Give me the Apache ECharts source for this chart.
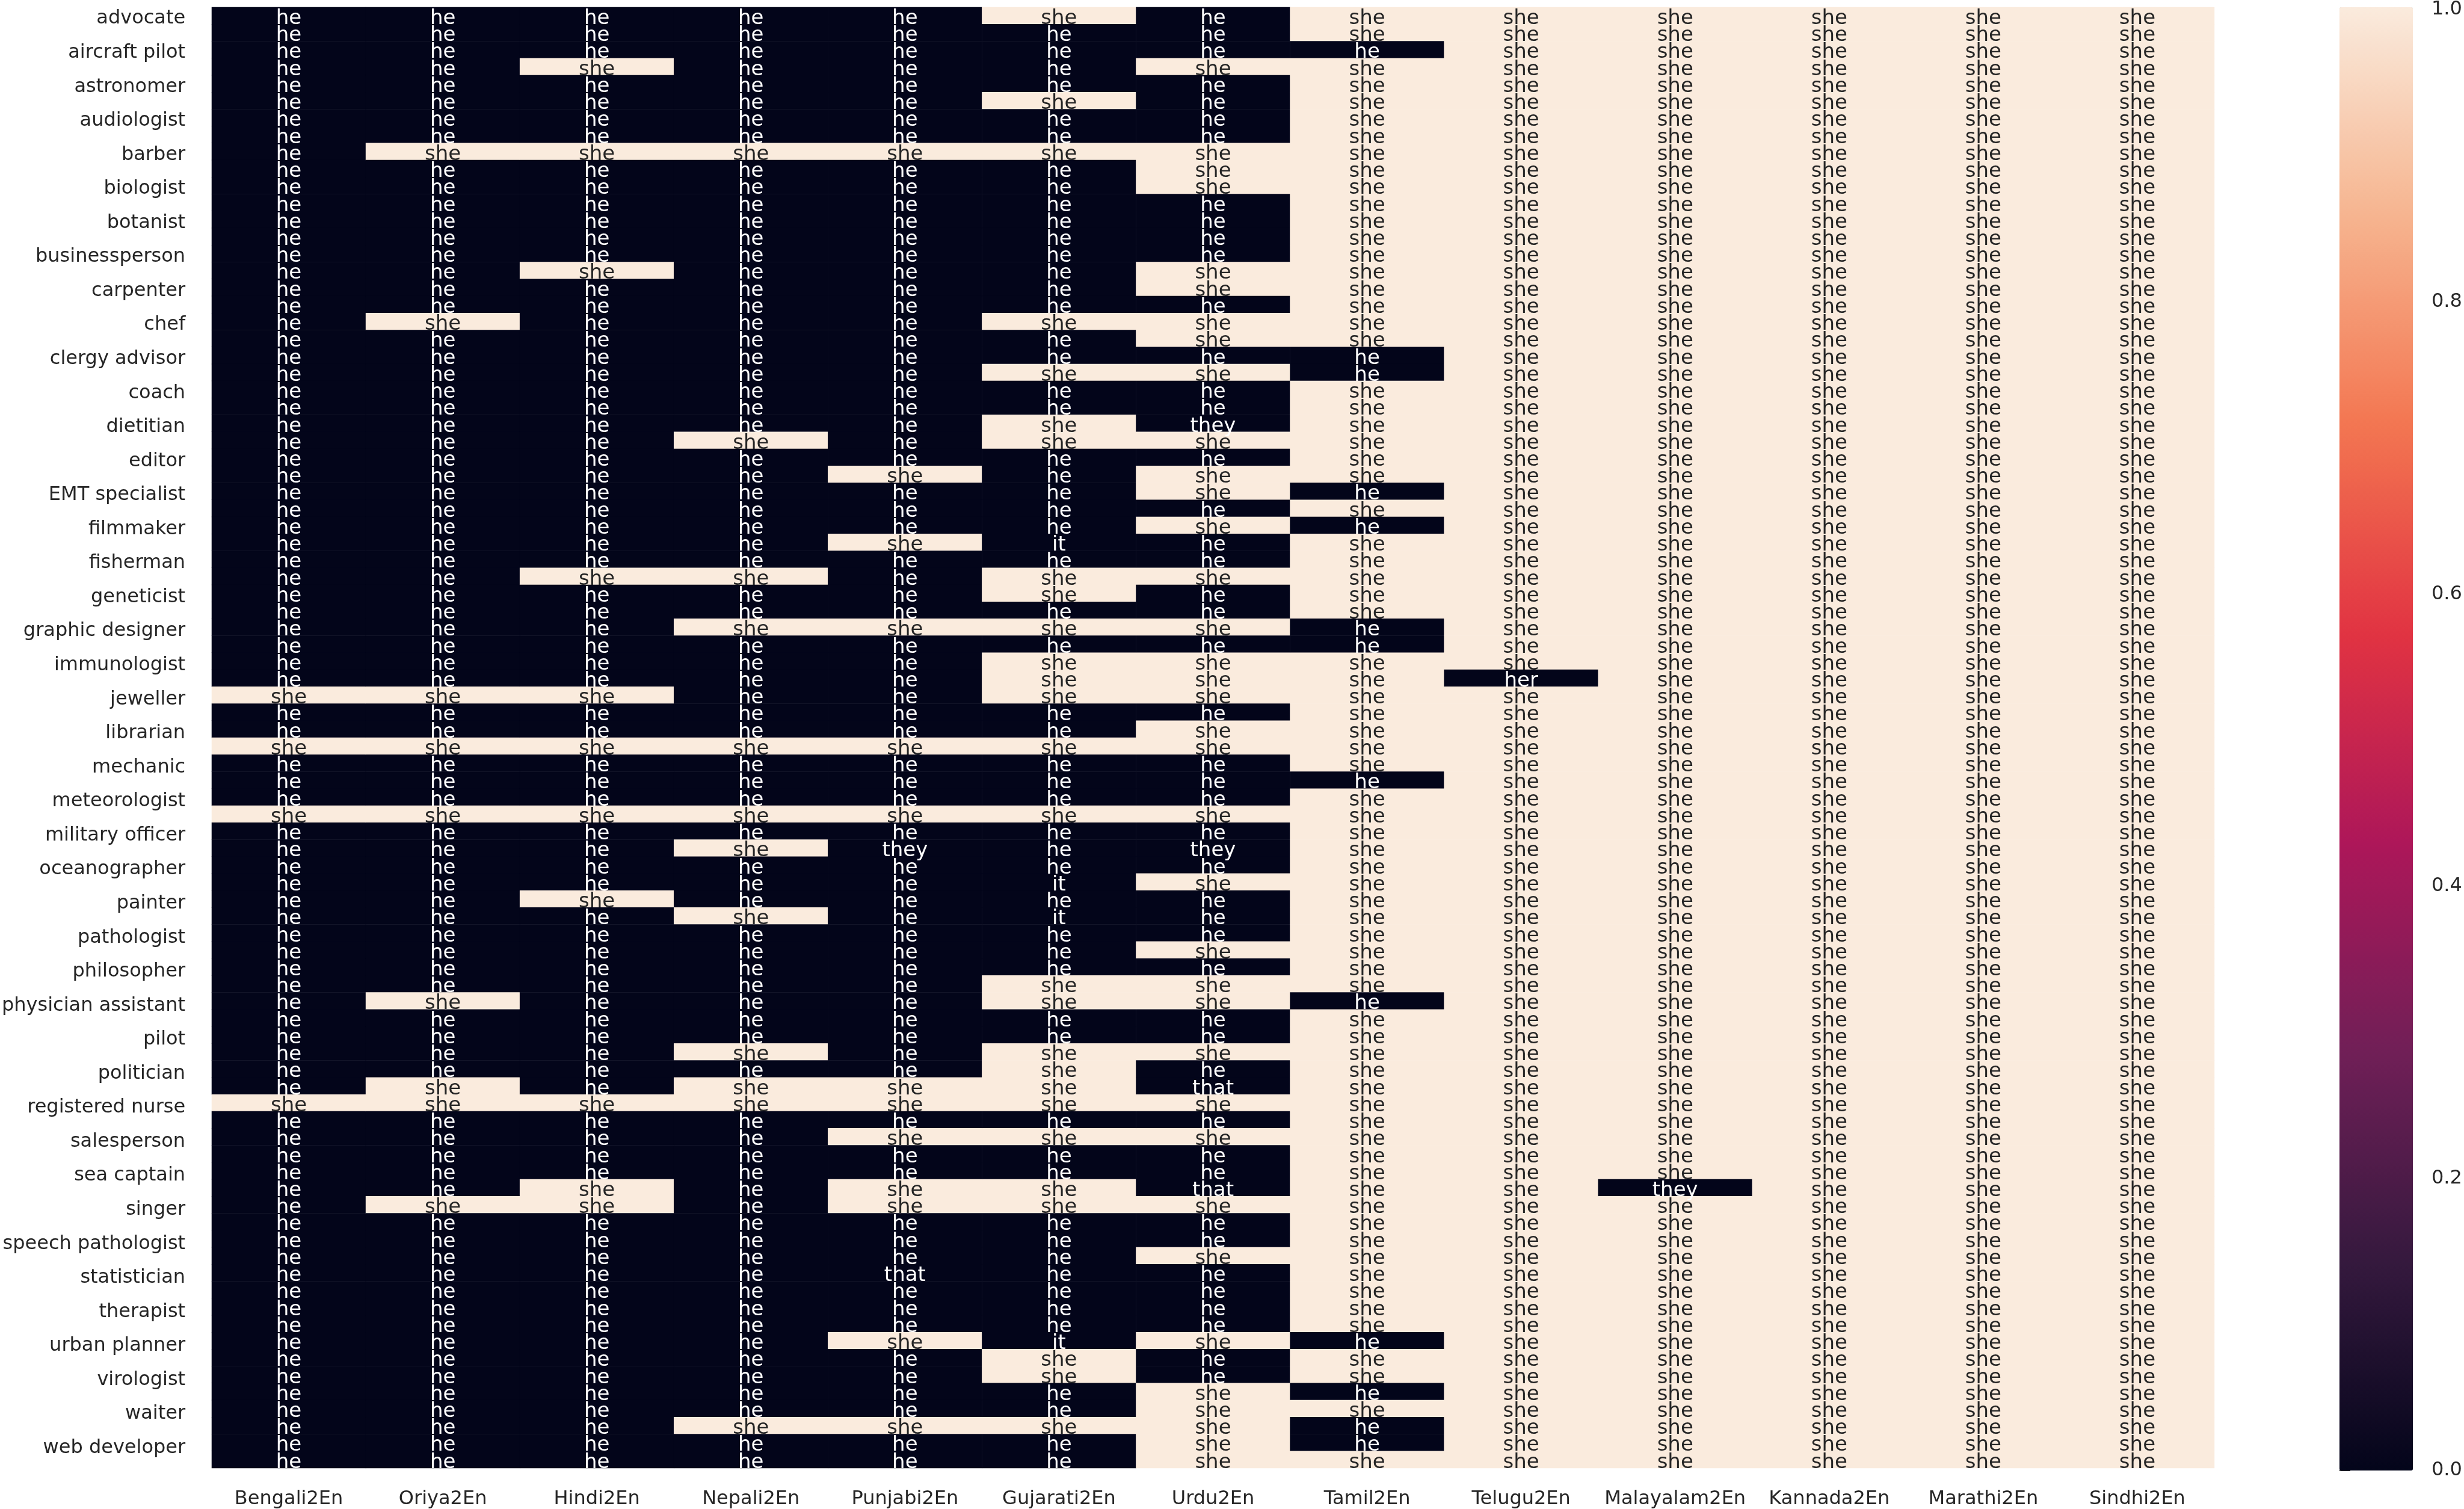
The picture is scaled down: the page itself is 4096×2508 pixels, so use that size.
<!DOCTYPE html>
<html>
<head>
<meta charset="utf-8">
<script src="https://cdn.jsdelivr.net/npm/echarts@6/dist/echarts.min.js"></script>
<style>html,body{margin:0;padding:0;background:#fff;}#c{width:4096px;height:2508px;}</style>
</head>
<body>
<div id="c"></div>
<script>
const columns = ['Bengali2En','Oriya2En','Hindi2En','Nepali2En','Punjabi2En','Gujarati2En','Urdu2En','Tamil2En','Telugu2En','Malayalam2En','Kannada2En','Marathi2En','Sindhi2En'];

const occupations = [
 'advocate','aerospace engineer','aircraft pilot','architect','astronomer','athlete','audiologist','baker','barber','bartender',
 'biologist','biomedical engineer','botanist','bus driver','businessperson','butcher','carpenter','cashier','chef','chemist',
 'clergy advisor','climatologist','coach','dentist','dietitian','doctor','editor','electrician','EMT specialist','farmer',
 'filmmaker','firefighter','fisherman','flight attendant','geneticist','geologist','graphic designer','hairdresser','immunologist','janitor',
 'jeweller','lawyer','librarian','lifeguard','mechanic','mechanical engineer','meteorologist','midwife','military officer','nurse',
 'oceanographer','optometrist','painter','paramedic','pathologist','pharmacist','philosopher','photographer','physician assistant','physicist',
 'pilot','plumber','politician','psychologist','registered nurse','sailor','salesperson','scientist','sea captain','secretary',
 'singer','software developer','speech pathologist','sports coach','statistician','surgeon','therapist','tour guide','urban planner','veterinarian',
 'virologist','voice actor','waiter','web designer','web developer','zoologist'
];

const bengali = [
 'he','he','he','he','he','he','he','he','he','he',
 'he','he','he','he','he','he','he','he','he','he',
 'he','he','he','he','he','he','he','he','he','he',
 'he','he','he','he','he','he','he','he','he','he',
 'she','he','he','she','he','he','he','she','he','he',
 'he','he','he','he','he','he','he','he','he','he',
 'he','he','he','he','she','he','he','he','he','he',
 'he','he','he','he','he','he','he','he','he','he',
 'he','he','he','he','he','he'];
const oriya = [
 'he','he','he','he','he','he','he','he','she','he',
 'he','he','he','he','he','he','he','he','she','he',
 'he','he','he','he','he','he','he','he','he','he',
 'he','he','he','he','he','he','he','he','he','he',
 'she','he','he','she','he','he','he','she','he','he',
 'he','he','he','he','he','he','he','he','she','he',
 'he','he','he','she','she','he','he','he','he','he',
 'she','he','he','he','he','he','he','he','he','he',
 'he','he','he','he','he','he'];
const hindi = [
 'he','he','he','she','he','he','he','he','she','he',
 'he','he','he','he','he','she','he','he','he','he',
 'he','he','he','he','he','he','he','he','he','he',
 'he','he','he','she','he','he','he','he','he','he',
 'she','he','he','she','he','he','he','she','he','he',
 'he','he','she','he','he','he','he','he','he','he',
 'he','he','he','he','she','he','he','he','he','she',
 'she','he','he','he','he','he','he','he','he','he',
 'he','he','he','he','he','he'];
const nepali = [
 'he','he','he','he','he','he','he','he','she','he',
 'he','he','he','he','he','he','he','he','he','he',
 'he','he','he','he','he','she','he','he','he','he',
 'he','he','he','she','he','he','she','he','he','he',
 'he','he','he','she','he','he','he','she','he','she',
 'he','he','he','she','he','he','he','he','he','he',
 'he','she','he','she','she','he','he','he','he','he',
 'he','he','he','he','he','he','he','he','he','he',
 'he','he','he','she','he','he'];
const punjabi = [
 'he','he','he','he','he','he','he','he','she','he',
 'he','he','he','he','he','he','he','he','he','he',
 'he','he','he','he','he','he','he','she','he','he',
 'he','she','he','he','he','he','she','he','he','he',
 'he','he','he','she','he','he','he','she','he','they',
 'he','he','he','he','he','he','he','he','he','he',
 'he','he','he','she','she','he','she','he','he','she',
 'she','he','he','he','that','he','he','he','she','he',
 'he','he','he','she','he','he'];
const gujarati = [
 'she','he','he','he','he','she','he','he','she','he',
 'he','he','he','he','he','he','he','he','she','he',
 'he','she','he','he','she','she','he','he','he','he',
 'he','it','he','she','she','he','she','he','she','she',
 'she','he','he','she','he','he','he','she','he','he',
 'he','it','he','it','he','he','he','she','she','he',
 'he','she','she','she','she','he','she','he','he','she',
 'she','he','he','he','he','he','he','he','it','she',
 'she','he','he','she','he','he'];
const urdu = [
 'he','he','he','she','he','he','he','he','she','she',
 'she','he','he','he','he','she','she','he','she','she',
 'he','she','he','he','they','she','he','she','she','he',
 'she','he','he','she','he','he','she','he','she','she',
 'she','he','she','she','he','he','he','she','he','they',
 'he','she','he','he','he','she','he','she','she','he',
 'he','she','he','that','she','he','she','he','he','that',
 'she','he','he','she','he','he','he','he','she','he',
 'he','she','she','she','she','she'];
const tamil = [
 'she','she','he','she','she','she','she','she','she','she',
 'she','she','she','she','she','she','she','she','she','she',
 'he','he','she','she','she','she','she','she','he','she',
 'he','she','she','she','she','she','he','he','she','she',
 'she','she','she','she','she','he','she','she','she','she',
 'she','she','she','she','she','she','she','she','he','she',
 'she','she','she','she','she','she','she','she','she','she',
 'she','she','she','she','she','she','she','she','he','she',
 'she','he','she','he','he','she'];
const telugu = [
 'she','she','she','she','she','she','she','she','she','she',
 'she','she','she','she','she','she','she','she','she','she',
 'she','she','she','she','she','she','she','she','she','she',
 'she','she','she','she','she','she','she','she','she','her',
 'she','she','she','she','she','she','she','she','she','she',
 'she','she','she','she','she','she','she','she','she','she',
 'she','she','she','she','she','she','she','she','she','she',
 'she','she','she','she','she','she','she','she','she','she',
 'she','she','she','she','she','she'];
const malayalam = [
 'she','she','she','she','she','she','she','she','she','she',
 'she','she','she','she','she','she','she','she','she','she',
 'she','she','she','she','she','she','she','she','she','she',
 'she','she','she','she','she','she','she','she','she','she',
 'she','she','she','she','she','she','she','she','she','she',
 'she','she','she','she','she','she','she','she','she','she',
 'she','she','she','she','she','she','she','she','she','they',
 'she','she','she','she','she','she','she','she','she','she',
 'she','she','she','she','she','she'];
const kannada = [
 'she','she','she','she','she','she','she','she','she','she',
 'she','she','she','she','she','she','she','she','she','she',
 'she','she','she','she','she','she','she','she','she','she',
 'she','she','she','she','she','she','she','she','she','she',
 'she','she','she','she','she','she','she','she','she','she',
 'she','she','she','she','she','she','she','she','she','she',
 'she','she','she','she','she','she','she','she','she','she',
 'she','she','she','she','she','she','she','she','she','she',
 'she','she','she','she','she','she'];
const marathi = [
 'she','she','she','she','she','she','she','she','she','she',
 'she','she','she','she','she','she','she','she','she','she',
 'she','she','she','she','she','she','she','she','she','she',
 'she','she','she','she','she','she','she','she','she','she',
 'she','she','she','she','she','she','she','she','she','she',
 'she','she','she','she','she','she','she','she','she','she',
 'she','she','she','she','she','she','she','she','she','she',
 'she','she','she','she','she','she','she','she','she','she',
 'she','she','she','she','she','she'];
const sindhi = [
 'she','she','she','she','she','she','she','she','she','she',
 'she','she','she','she','she','she','she','she','she','she',
 'she','she','she','she','she','she','she','she','she','she',
 'she','she','she','she','she','she','she','she','she','she',
 'she','she','she','she','she','she','she','she','she','she',
 'she','she','she','she','she','she','she','she','she','she',
 'she','she','she','she','she','she','she','she','she','she',
 'she','she','she','she','she','she','she','she','she','she',
 'she','she','she','she','she','she'];

const colorbarTicks = [0.0, 0.2, 0.4, 0.6, 0.8, 1.0];

const pronounColumns = [bengali, oriya, hindi, nepali, punjabi, gujarati, urdu, tamil, telugu, malayalam, kannada, marathi, sindhi];

const rocket = ['#03051A','#35193E','#701F57','#AD1759','#E13342','#F37651','#F6B48F','#FAEBDD'];
const FONT = 'DejaVu Sans';
const TXT = '#262626';

const data = [];
pronounColumns.forEach((col, c) => {
  col.forEach((word, r) => {
    const v = word === 'she' ? 1 : 0;
    data.push({ value: [c, r, v], word: word, label: { color: v ? TXT : '#ffffff' } });
  });
});

const chart = echarts.init(document.getElementById('c'), null, { renderer: 'canvas' });
chart.setOption({
  animation: false,
  backgroundColor: '#ffffff',
  grid: [
    { left: 352, top: 12, width: 3329, height: 2432 },
    { left: 3889, top: 12, width: 122, height: 2432 },
    { left: 352, top: 17, width: 3329, height: 2432 }
  ],
  xAxis: [
    {
      type: 'category', data: columns, gridIndex: 0, position: 'bottom',
      axisLine: { show: false }, axisTick: { show: false }, splitLine: { show: false },
      axisLabel: { interval: 0, fontFamily: FONT, fontSize: 32, color: TXT, margin: 36 }
    },
    { type: 'value', gridIndex: 1, show: false, min: 0, max: 1 },
    { type: 'category', data: columns, gridIndex: 2, show: false }
  ],
  yAxis: [
    {
      type: 'category', data: occupations, gridIndex: 0, inverse: true,
      axisLine: { show: false }, axisTick: { show: false }, splitLine: { show: false },
      axisLabel: { show: false }
    },
    {
      type: 'value', gridIndex: 1, position: 'right', min: 0, max: 1, interval: 0.2,
      axisLine: { show: false }, splitLine: { show: false },
      axisTick: { show: true, inside: false, length: 18, lineStyle: { color: TXT, width: 2 } },
      axisLabel: { fontFamily: FONT, fontSize: 32, color: TXT, margin: 31,
        formatter: v => colorbarTicks.indexOf(Math.round(v * 10) / 10) >= 0 ? v.toFixed(1) : '' }
    },
    {
      type: 'category', data: occupations, gridIndex: 2, inverse: true,
      axisLine: { show: false }, axisTick: { show: false }, splitLine: { show: false },
      axisLabel: { interval: 1, fontFamily: FONT, fontSize: 32, color: TXT, margin: 50 }
    }
  ],
  visualMap: {
    type: 'continuous', min: 0, max: 1, calculable: false, show: true,
    seriesIndex: 0, orient: 'vertical', left: 3889, top: 12, padding: 0,
    itemWidth: 122, itemHeight: 2432, text: null,
    inRange: { color: rocket }
  },
  series: [
    {
      type: 'heatmap', xAxisIndex: 0, yAxisIndex: 0, data: data, progressive: 0,
      label: {
        show: true, fontFamily: FONT, fontSize: 34, offset: [0, 5],
        formatter: p => p.data.word
      },
      emphasis: { disabled: true }
    },
    { type: 'scatter', xAxisIndex: 1, yAxisIndex: 1, data: [], silent: true },
    { type: 'scatter', xAxisIndex: 2, yAxisIndex: 2, data: [], silent: true }
  ]
});
</script>
</body>
</html>
